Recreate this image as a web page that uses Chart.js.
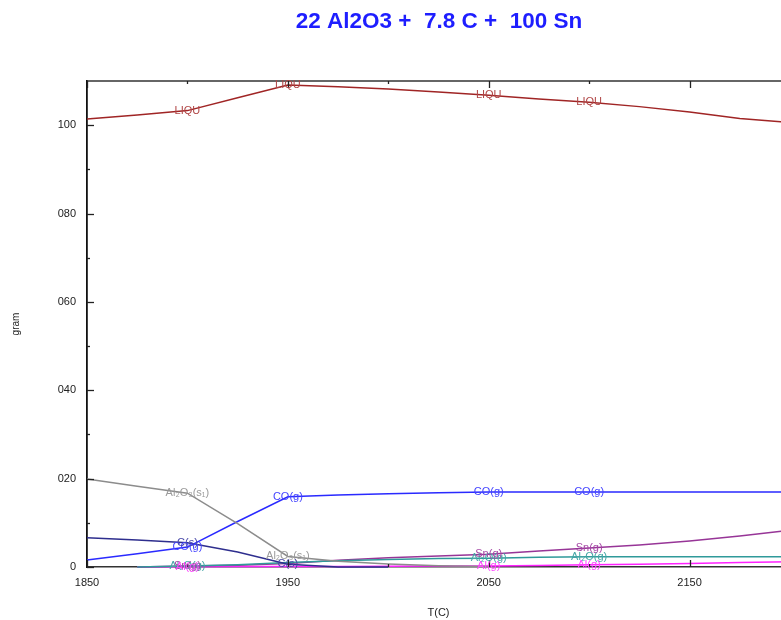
<!DOCTYPE html>
<html>
<head>
<meta charset="utf-8">
<script src="https://cdn.jsdelivr.net/npm/chart.js@4.4.1/dist/chart.umd.min.js"></script>
<style>
  html, body { margin: 0; padding: 0; background: #ffffff; overflow: hidden; }
  #wrap { width: 800px; height: 620px; }
</style>
</head>
<body>
<div id="wrap"><canvas id="c" width="800" height="620"></canvas></div>
<script>
// ---- data ----
const chartTitle = '22 Al2O3 +  7.8 C +  100 Sn';
const xTitle = 'T(C)';
const yTitle = 'gram';

const temps = [1850, 1875, 1900, 1925, 1950, 1975, 2000, 2025, 2050, 2075, 2100, 2125, 2150, 2175, 2200];

const liqu  = [101.4, 102.3, 103.3, 106.2, 109.1, 108.7, 108.2, 107.5, 106.8, 105.9, 105.2, 104.2, 103.0, 101.5, 100.6];
const al2o3 = [19.9, 18.3, 16.7, 9.8, 2.4, 1.3, 0.7, 0.3, 0.1, null, null, null, null, null, null];
const cog   = [1.6, 3.0, 4.5, 10.3, 15.9, 16.3, 16.6, 16.8, 17.0, 17.0, 17.0, 17.0, 17.0, 17.0, 17.0];
const cs    = [6.6, 6.1, 5.5, 3.4, 0.6, 0.0, 0.0, null, null, null, null, null, null, null, null];
const al2og = [null, 0.0, 0.2, 0.5, 1.0, 1.4, 1.7, 1.9, 2.0, 2.2, 2.3, 2.3, 2.3, 2.3, 2.3];
const sng   = [null, 0.0, 0.2, 0.4, 0.8, 1.5, 2.1, 2.5, 2.9, 3.6, 4.3, 5.0, 5.9, 7.0, 8.3];
const alg   = [null, 0.0, 0.05, 0.1, 0.1, 0.12, 0.15, 0.2, 0.2, 0.35, 0.5, 0.65, 0.8, 1.0, 1.2];

const seriesNames = ['LIQU', 'Al\u2082O\u2083(s\u2081)', 'CO(g)', 'C(s)', 'Al\u2082O(g)', 'Sn(g)', 'Al(g)'];
const seriesValues = [liqu, al2o3, cog, cs, al2og, sng, alg];
const seriesLabelTemps = [
  [1900, 1950, 2050, 2100],
  [1900, 1950],
  [1900, 1950, 2050, 2100],
  [1900, 1950],
  [1900, 2050, 2100],
  [1900, 2050, 2100],
  [1900, 2050, 2100]
];

const xTickValues = [1850, 1950, 2050, 2150];
const xTickLabels = ['1850', '1950', '2050', '2150'];
const xMinorTicks = [1900, 2000, 2100];
const yTickValues = [0, 20, 40, 60, 80, 100];
const yTickLabels = ['0', '020', '040', '060', '080', '100'];
const yMinorTicks = [10, 30, 50, 70, 90];

// ---- styles ----
const lineColors  = ['#a02525', '#8c8c8c', '#2a2aff', '#2e2e8e', '#2f9a9a', '#973597', '#ff22ff'];
const labelColors = ['#b04545', '#9a9a9a', '#4444ff', '#4848a8', '#44a6a6', '#a548a5', '#ff44ff'];
const FONT = '"Liberation Sans", Arial, sans-serif';

const datasets = seriesNames.map((name, s) => ({
  label: name,
  data: temps.map((t, i) => ({ x: t, y: seriesValues[s][i] })).filter(p => p.y !== null),
  borderColor: lineColors[s],
  backgroundColor: lineColors[s],
  borderWidth: 1.5,
  pointRadius: 0,
  tension: 0,
  fill: false,
  clip: 4
}));

const decorPlugin = {
  id: 'decor',
  afterDatasetsDraw(chart) {
    const ctx = chart.ctx;
    const xs = chart.scales.x, ys = chart.scales.y;
    const a = chart.chartArea;
    ctx.save();
    // top frame line
    ctx.strokeStyle = '#333333';
    ctx.lineWidth = 1.5;
    ctx.beginPath();
    ctx.moveTo(a.left, a.top);
    ctx.lineTo(a.right, a.top);
    ctx.stroke();
    // inner ticks
    ctx.lineWidth = 1.3;
    ctx.strokeStyle = '#222222';
    const tickX = (v, len) => {
      const px = Math.round(xs.getPixelForValue(v)) + 0.5;
      ctx.beginPath();
      ctx.moveTo(px, a.bottom); ctx.lineTo(px, a.bottom - len);
      ctx.moveTo(px, a.top); ctx.lineTo(px, a.top + len);
      ctx.stroke();
    };
    const tickY = (v, len) => {
      const py = Math.round(ys.getPixelForValue(v)) + 0.5;
      ctx.beginPath();
      ctx.moveTo(a.left, py); ctx.lineTo(a.left + len, py);
      ctx.stroke();
    };
    xTickValues.forEach(v => tickX(v, 7));
    xMinorTicks.forEach(v => tickX(v, 3));
    yTickValues.forEach(v => tickY(v, 7));
    yMinorTicks.forEach(v => tickY(v, 3));
    // series labels on the curves
    ctx.font = '11px ' + FONT;
    ctx.textAlign = 'center';
    ctx.textBaseline = 'middle';
    seriesNames.forEach((name, s) => {
      seriesLabelTemps[s].forEach(t => {
        const i = temps.indexOf(t);
        const v = seriesValues[s][i];
        if (v === null || v === undefined) return;
        ctx.fillStyle = labelColors[s];
        ctx.fillText(name, xs.getPixelForValue(t), ys.getPixelForValue(v));
      });
    });
    ctx.restore();
  },
  afterDraw(chart) {
    const ctx = chart.ctx;
    ctx.save();
    ctx.font = 'bold 22.5px ' + FONT;
    ctx.fillStyle = '#1e1eff';
    ctx.textAlign = 'center';
    ctx.textBaseline = 'alphabetic';
    ctx.fillText(chartTitle, 439, 28);
    ctx.restore();
  }
};

new Chart(document.getElementById('c'), {
  type: 'line',
  data: { datasets },
  options: {
    responsive: false,
    animation: false,
    events: [],
    layout: { padding: { top: 81, right: 10, left: 0, bottom: 0 } },
    plugins: { legend: { display: false }, tooltip: { enabled: false }, title: { display: false } },
    scales: {
      x: {
        type: 'linear',
        position: 'bottom',
        min: 1850,
        max: 2200,
        afterFit(s) { s.height = 53; },
        afterBuildTicks(s) { s.ticks = xTickValues.map(v => ({ value: v })); },
        grid: { display: false, drawTicks: false },
        border: { display: true, color: '#333333', width: 1.5 },
        ticks: {
          padding: 9,
          color: '#222222',
          font: { family: FONT, size: 11 },
          maxRotation: 0,
          autoSkip: false,
          callback: (v) => { const k = xTickValues.indexOf(v); return k >= 0 ? xTickLabels[k] : ''; }
        },
        title: { display: true, text: xTitle, color: '#222222', font: { family: FONT, size: 11 }, padding: { top: 0, bottom: 0 } }
      },
      y: {
        type: 'linear',
        position: 'left',
        min: 0,
        max: 110,
        afterFit(s) { s.width = 87; },
        afterBuildTicks(s) { s.ticks = yTickValues.map(v => ({ value: v })); },
        grid: { display: false, drawTicks: false },
        border: { display: true, color: '#111111', width: 1.8 },
        ticks: {
          padding: 11,
          color: '#222222',
          font: { family: FONT, size: 11 },
          autoSkip: false,
          callback: (v) => { const k = yTickValues.indexOf(v); return k >= 0 ? yTickLabels[k] : ''; }
        },
        title: { display: true, text: yTitle, color: '#222222', font: { family: FONT, size: 10 }, padding: { top: 10, bottom: 0 } }
      }
    }
  },
  plugins: [decorPlugin]
});
</script>
</body>
</html>
